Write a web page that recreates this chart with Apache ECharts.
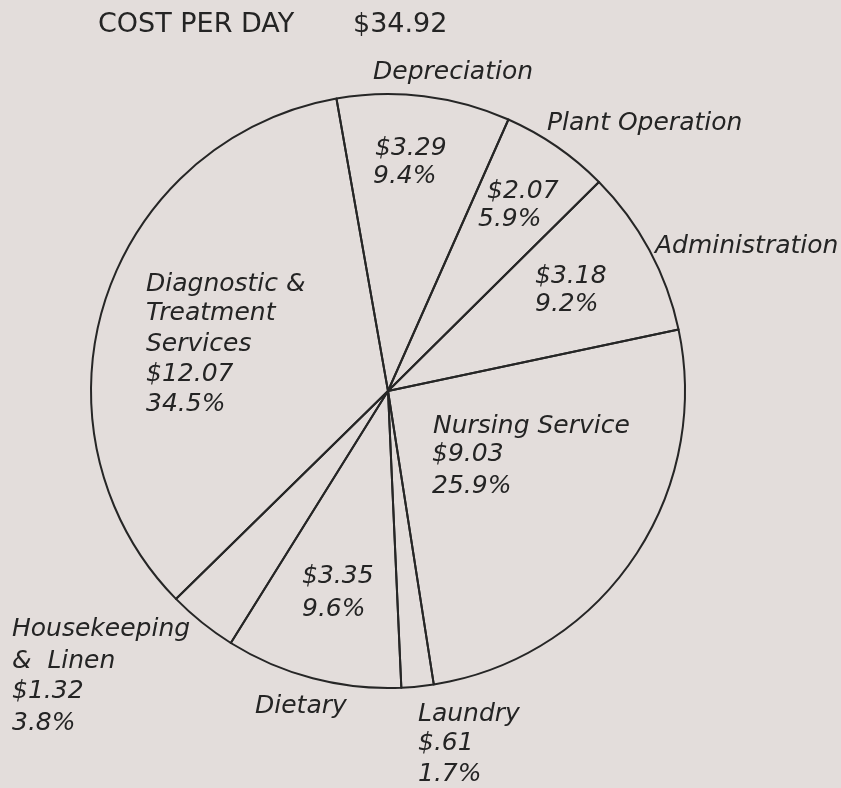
<!DOCTYPE html>
<html>
<head>
<meta charset="utf-8">
<script src="https://cdn.jsdelivr.net/npm/echarts@6/dist/echarts.min.js"></script>
<style>
html,body{margin:0;padding:0;background:#e3dddb;}
#chart{width:841px;height:788px;}
</style>
</head>
<body>
<div id="chart"></div>
<script>
// ---- data ----
const categories = ['Depreciation', 'Plant Operation', 'Administration', 'Nursing Service', 'Laundry', 'Dietary', 'Housekeeping & Linen', 'Diagnostic & Treatment Services'];
const costs = [3.29, 2.07, 3.18, 9.03, 0.61, 3.35, 1.32, 12.07];
const costLabels = ['$3.29', '$2.07', '$3.18', '$9.03', '$.61', '$3.35', '$1.32', '$12.07'];
const percentLabels = ['9.4%', '5.9%', '9.2%', '25.9%', '1.7%', '9.6%', '3.8%', '34.5%'];
const titleText = 'COST PER DAY';
const totalText = '$34.92';

// ---- layout of annotation lines (text from the arrays above) ----
const INK = '#242424';
const italicFont = 'italic 25px "DejaVu Sans"';
const titleFont = '27px "DejaVu Sans"';
const annotations = [
  { lines: [categories[0]], x: 373, y: [81] },
  { lines: [costLabels[0], percentLabels[0]], x: [375, 373], y: [157, 185] },
  { lines: [categories[1]], x: 547, y: [132] },
  { lines: [costLabels[1], percentLabels[1]], x: [487, 478], y: [200, 228] },
  { lines: [categories[2]], x: 655, y: [255] },
  { lines: [costLabels[2], percentLabels[2]], x: [535, 535], y: [285, 313] },
  { lines: ['Diagnostic &', 'Treatment', 'Services', costLabels[7], percentLabels[7]], x: [146, 146, 146, 146, 146], y: [293, 322, 353, 383, 413] },
  { lines: [categories[3], costLabels[3], percentLabels[3]], x: [433, 432, 432], y: [435, 463, 495] },
  { lines: [costLabels[5], percentLabels[5]], x: [302, 302], y: [585, 618] },
  { lines: ['Housekeeping', '&  Linen', costLabels[6], percentLabels[6]], x: 12, y: [638, 670, 700, 732] },
  { lines: [categories[5]], x: 255, y: [715] },
  { lines: [categories[4], costLabels[4], percentLabels[4]], x: 418, y: [723, 752, 783] }
];

const graphics = [
  { type: 'text', x: 98, y: 35 - 10, style: { text: titleText, font: titleFont, fill: INK, textAlign: 'left', textVerticalAlign: 'middle' } },
  { type: 'text', x: 353, y: 35 - 10, style: { text: totalText, font: titleFont, fill: INK, textAlign: 'left', textVerticalAlign: 'middle' } }
];
annotations.forEach(a => {
  a.lines.forEach((t, i) => {
    const x = Array.isArray(a.x) ? a.x[i] : a.x;
    graphics.push({
      type: 'text', x: x, y: a.y[i] - 9,
      style: { text: t, font: italicFont, fill: INK, textAlign: 'left', textVerticalAlign: 'middle' }
    });
  });
});

const chart = echarts.init(document.getElementById('chart'), null, { renderer: 'canvas' });
chart.setOption({
  backgroundColor: '#e3dddb',
  animation: false,
  series: [{
    type: 'pie',
    center: [388, 391],
    radius: 297,
    startAngle: 100,
    clockwise: true,
    avoidLabelOverlap: false,
    label: { show: false },
    labelLine: { show: false },
    emphasis: { disabled: true },
    itemStyle: { color: 'rgba(0,0,0,0)', borderColor: '#262626', borderWidth: 2 },
    data: categories.map((c, i) => ({ name: c, value: costs[i] }))
  }],
  graphic: graphics
});
</script>
</body>
</html>
